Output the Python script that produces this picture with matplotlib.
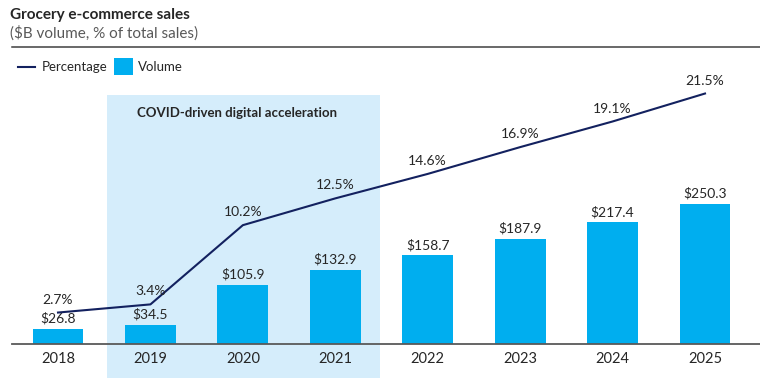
import matplotlib
matplotlib.use("Agg")
import matplotlib.pyplot as plt
from matplotlib.patches import Rectangle
from matplotlib.lines import Line2D
from matplotlib.transforms import blended_transform_factory

years = ["2018", "2019", "2020", "2021", "2022", "2023", "2024", "2025"]
volume = [26.8, 34.5, 105.9, 132.9, 158.7, 187.9, 217.4, 250.3]
percentage = [2.7, 3.4, 10.2, 12.5, 14.6, 16.9, 19.1, 21.5]
vol_labels = ["$26.8", "$34.5", "$105.9", "$132.9", "$158.7", "$187.9", "$217.4", "$250.3"]
pct_labels = ["2.7%", "3.4%", "10.2%", "12.5%", "14.6%", "16.9%", "19.1%", "21.5%"]

plt.rcParams['font.family'] = ['Lato', 'DejaVu Sans']

W, H = 760, 378
fig = plt.figure(figsize=(7.6, 3.78), dpi=100)

BAR_C = "#00AEEF"
LINE_C = "#13215F"
TXT = "#262626"
SHADE = "#D5EDFB"

# axes in pixel geometry
ax_left, ax_right = 12, 760
ax_bottom_px, ax_top_px = 344, 60
ax = fig.add_axes([ax_left / W, 1 - ax_bottom_px / H, (ax_right - ax_left) / W,
                   (ax_bottom_px - ax_top_px) / H])
ax.set_facecolor("none")
hpx = ax_bottom_px - ax_top_px
ax.set_ylim(0, hpx / 0.559)
step = 92.43
ax.set_xlim((ax_left - 58) / step, (ax_right - 58) / step)

x = list(range(len(years)))
ax.bar(x, volume, width=0.55, color=BAR_C, zorder=2)
for xi, v, lab in zip(x, volume, vol_labels):
    ax.annotate(lab, (xi, v), xytext=(0, 3), textcoords="offset points",
                ha="center", va="bottom", fontsize=10, color=TXT, zorder=4)

ax2 = ax.twinx()
ax2.set_facecolor("none")
ax2.set_ylim(0, hpx / 11.65)
ax2.plot(x, percentage, color=LINE_C, lw=1.5, zorder=3)
for xi, p, lab in zip(x, percentage, pct_labels):
    ax2.annotate(lab, (xi, p), xytext=(0, 5), textcoords="offset points",
                 ha="center", va="bottom", fontsize=10, color=TXT, zorder=4)

# shaded COVID region
tr = blended_transform_factory(ax.transData, fig.transFigure)
x0 = (107 - 58) / step
x1 = (380 - 58) / step
rect = Rectangle((x0, 0), x1 - x0, (H - 95) / H, transform=tr,
                 facecolor=SHADE, edgecolor="none", zorder=0, clip_on=False)
ax.add_patch(rect)
fig.text(137 / W, 1 - 113 / H, "COVID-driven digital acceleration", fontsize=9.5,
         fontweight="bold", color=TXT, va="center", ha="left")

for a in (ax, ax2):
    for s in ("top", "right", "left", "bottom"):
        a.spines[s].set_visible(False)
ax2.set_yticks([])
ax.set_yticks([])
ax.set_xticks(x)
ax.set_xticklabels(years, fontsize=10.5, color=TXT)
ax.tick_params(axis="x", length=0, pad=6)
ax.axhline(0, color="#595959", lw=1.3, zorder=5, clip_on=False)

# title block
fig.text(10 / W, 1 - 15 / H, "Grocery e-commerce sales", fontsize=11,
         fontweight="bold", color=TXT, va="center", ha="left")
fig.text(10 / W, 1 - 33 / H, "($B volume, % of total sales)", fontsize=11,
         color="#595959", va="center", ha="left")
fig.add_artist(Line2D([12 / W, 1], [1 - 47 / H, 1 - 47 / H], transform=fig.transFigure,
                      color="#404040", lw=1.1))

# legend
ly = 1 - 67 / H
fig.add_artist(Line2D([18 / W, 35 / W], [ly, ly], transform=fig.transFigure,
                      color=LINE_C, lw=1.5))
fig.text(42 / W, ly, "Percentage", fontsize=9.5, color=TXT, va="center", ha="left")
fig.add_artist(Rectangle((114 / W, 1 - 75 / H), 19 / W, 17 / H, transform=fig.transFigure,
                         facecolor=BAR_C, edgecolor="none"))
fig.text(138 / W, ly, "Volume", fontsize=9.5, color=TXT, va="center", ha="left")

fig.savefig("out.png", dpi=100)
